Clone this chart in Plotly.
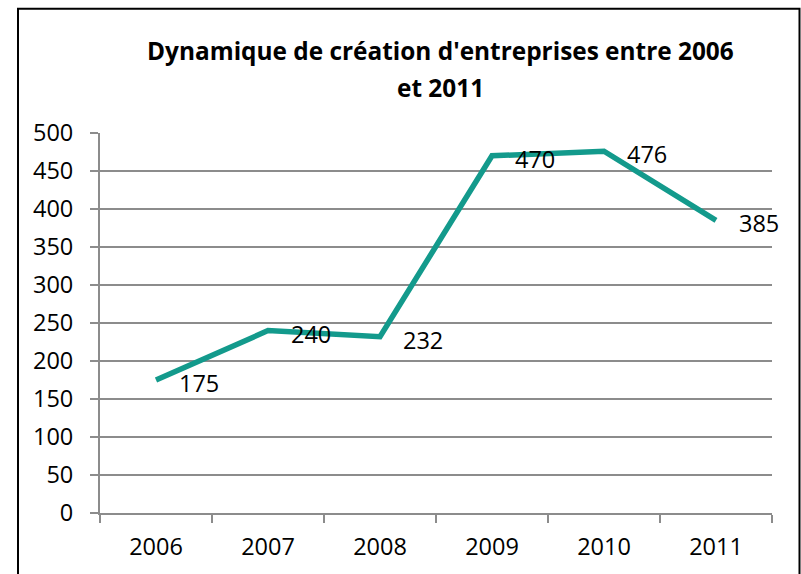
import plotly.graph_objects as go

years = ["2006", "2007", "2008", "2009", "2010", "2011"]
values = [175, 240, 232, 470, 476, 385]
y_ticks = [0, 50, 100, 150, 200, 250, 300, 350, 400, 450, 500]
title_line1 = "Dynamique de création d'entreprises entre 2006"
title_line2 = "et 2011"

FONT = "Open Sans"
TEAL = "#139A8C"
GRID = "#8C8C8C"
FS = 23.5

fig = go.Figure()
fig.add_trace(go.Scatter(
    x=years, y=values, mode="lines",
    line=dict(color=TEAL, width=5.5),
    hoverinfo="x+y", showlegend=False,
))

for i, v in enumerate(values):
    fig.add_annotation(
        x=i, y=v, text=str(v), showarrow=False,
        xanchor="left", yanchor="middle", xshift=21, yshift=-3,
        font=dict(family=FONT, size=FS, color="black"),
    )

W, H = 801, 574
L, R, T, B = 100, 29, 133, 59
pw, ph = W - L - R, H - T - B

def px_x(px):
    return (px - L) / pw

def px_y(py):
    return (H - B - py) / ph

fig.add_annotation(
    x=px_x(440), y=px_y(50), xref="paper", yref="paper",
    text="<b>" + title_line1 + "</b>", showarrow=False,
    xanchor="center", yanchor="middle",
    font=dict(family=FONT, size=24.4, color="black"),
)
fig.add_annotation(
    x=px_x(440), y=px_y(87), xref="paper", yref="paper",
    text="<b>" + title_line2 + "</b>", showarrow=False,
    xanchor="center", yanchor="middle",
    font=dict(family=FONT, size=24.4, color="black"),
)

fig.add_shape(
    type="rect", xref="paper", yref="paper",
    x0=px_x(18), x1=px_x(799.5), y0=px_y(8), y1=px_y(620),
    line=dict(color="black", width=2), fillcolor="rgba(0,0,0,0)",
    layer="above",
)

fig.update_layout(
    width=W, height=H,
    margin=dict(l=L, r=R, t=T, b=B),
    paper_bgcolor="white", plot_bgcolor="white",
    font=dict(family=FONT, size=FS, color="black"),
)
fig.update_xaxes(
    type="category", range=[-0.5, 5.5],
    showgrid=False, showline=True, linecolor=GRID, linewidth=2,
    ticks="outside", tickson="boundaries", ticklen=8, tickcolor=GRID, tickwidth=2,
    tickfont=dict(family=FONT, size=FS, color="black"),
    ticklabelstandoff=12, zeroline=False,
)
fig.update_yaxes(
    range=[0, 500], tickvals=y_ticks,
    showgrid=True, gridcolor=GRID, gridwidth=1.5,
    showline=True, linecolor=GRID, linewidth=2,
    ticks="outside", ticklen=8, tickcolor=GRID, tickwidth=2,
    tickfont=dict(family=FONT, size=FS, color="black"),
    ticklabelstandoff=12, zeroline=False,
)

fig.write_html(
    "out.html",
    config={"displayModeBar": False},
    post_script="document.body.style.margin='0';document.body.style.overflow='hidden';",
)
